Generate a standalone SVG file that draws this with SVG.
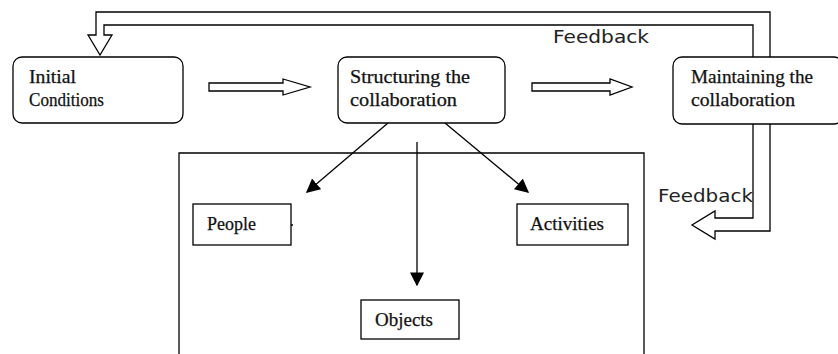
<svg xmlns="http://www.w3.org/2000/svg" width="838" height="354" viewBox="0 0 838 354">
<style>
.box{fill:#fff;stroke:#000;stroke-width:1.3}
.ln{fill:none;stroke:#000;stroke-width:1.3}
.hollow{fill:#fff;stroke:#000;stroke-width:1.3;stroke-linejoin:miter}
.t{font-family:"Liberation Serif",serif;font-size:18px;fill:#111;stroke:#111;stroke-width:0.25}
.s{font-family:"DejaVu Sans","Liberation Sans",sans-serif;font-size:17px;fill:#222}
</style>
<defs>
<marker id="ah" viewBox="0 0 10 10" refX="9" refY="5" markerWidth="14" markerHeight="14" markerUnits="userSpaceOnUse" orient="auto">
<path d="M0,0 L10,5 L0,10 Z" fill="#000"/>
</marker>
</defs>
<rect width="838" height="354" fill="#fff"/>
<g id="container">
<path class="ln" d="M179,360 V153 H644 V360"/>
</g>
<g id="connectors">
<path class="hollow" d="M96,35 L88,35 L100,55 L112,35 L104,35 L104,25 L753,25 L753,218 L715,218 L715,211 L692,225 L715,239 L715,231 L770,231 L770,12 L96,12 Z"/>
<path class="hollow" d="M209,83 L283,83 L283,79 L310,87 L283,95 L283,91 L209,91 Z"/>
<path class="hollow" d="M532,83 L610,83 L610,79 L632,87 L610,95 L610,91 L532,91 Z"/>
<line class="ln" x1="388" y1="123" x2="307" y2="192" marker-end="url(#ah)"/>
<line class="ln" x1="417" y1="142" x2="417" y2="285" marker-end="url(#ah)"/>
<line class="ln" x1="445" y1="123" x2="528" y2="192" marker-end="url(#ah)"/>
<line class="ln" x1="291" y1="225" x2="293" y2="225"/>
</g>
<g id="initial">
<rect class="box" x="13" y="57" width="170" height="66" rx="9"/>
<text class="t" x="29" y="83" textLength="47" lengthAdjust="spacingAndGlyphs">Initial</text>
<text class="t" x="29" y="106" textLength="75" lengthAdjust="spacingAndGlyphs">Conditions</text>
</g>
<g id="structuring">
<rect class="box" x="338" y="57" width="167" height="66" rx="9"/>
<text class="t" x="350" y="83" textLength="120" lengthAdjust="spacingAndGlyphs">Structuring the</text>
<text class="t" x="350" y="106" textLength="107" lengthAdjust="spacingAndGlyphs">collaboration</text>
</g>
<g id="maintaining">
<rect class="box" x="673" y="57" width="170" height="67" rx="9"/>
<text class="t" x="691" y="83" textLength="122" lengthAdjust="spacingAndGlyphs">Maintaining the</text>
<text class="t" x="691" y="106" textLength="104" lengthAdjust="spacingAndGlyphs">collaboration</text>
</g>
<g id="people">
<rect class="box" x="193" y="204" width="98" height="41"/>
<text class="t" x="207" y="230" textLength="49" lengthAdjust="spacingAndGlyphs">People</text>
</g>
<g id="activities">
<rect class="box" x="517" y="204" width="111" height="41"/>
<text class="t" x="530" y="230" textLength="74" lengthAdjust="spacingAndGlyphs">Activities</text>
</g>
<g id="objects">
<rect class="box" x="361" y="300" width="98" height="39"/>
<text class="t" x="375" y="326" textLength="58" lengthAdjust="spacingAndGlyphs">Objects</text>
</g>
<g id="labels">
<text class="s" x="553" y="43" textLength="96" lengthAdjust="spacingAndGlyphs">Feedback</text>
<text class="s" x="658" y="202" textLength="95" lengthAdjust="spacingAndGlyphs">Feedback</text>
</g>
</svg>
